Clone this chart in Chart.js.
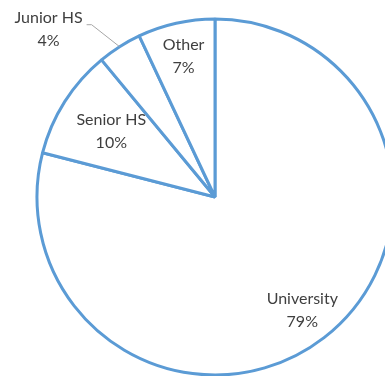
<!DOCTYPE html>
<html>
<head>
<meta charset="utf-8">
<script src="https://cdn.jsdelivr.net/npm/chart.js@4/dist/chart.umd.min.js"></script>
<style>
  html, body { margin: 0; padding: 0; background: #fff; }
  #wrap { width: 385px; height: 376px; position: relative; }
</style>
</head>
<body>
<div id="wrap"><canvas id="myChart"></canvas></div>
<script>
// chart data
const categories = ["University", "Senior HS", "Junior HS", "Other"];
const shares = [79, 10, 4, 7];

// label placement (fraction of radius along the slice middle); Junior HS sits outside
const labelStyle = [
  { r: 0.80, dx: 0, dy: 0 },
  { r: 0.69, dx: 0, dy: 0 },
  { r: 1.0, dx: 0, dy: 0, outside: true },
  { r: 0.81, dx: 0, dy: 0 }
];

const sliceLabels = {
  id: "sliceLabels",
  afterDatasetsDraw(chart) {
    const ctx = chart.ctx;
    const meta = chart.getDatasetMeta(0);
    ctx.save();
    ctx.font = "16px Lato, 'Open Sans', sans-serif";
    ctx.fillStyle = "#3f3f3f";
    ctx.textAlign = "center";
    ctx.textBaseline = "middle";
    meta.data.forEach((arc, i) => {
      const p = arc.getProps(["x", "y", "startAngle", "endAngle", "outerRadius"], true);
      const mid = (p.startAngle + p.endAngle) / 2;
      const st = labelStyle[i];
      let lx, ly;
      if (st.outside) {
        const ex = p.x + Math.cos(mid) * p.outerRadius;
        const ey = p.y + Math.sin(mid) * p.outerRadius;
        lx = ex - 71;
        ly = ey - 18;
        // leader line
        ctx.strokeStyle = "#a6a6a6";
        ctx.lineWidth = 1;
        ctx.beginPath();
        ctx.moveTo(ex, ey);
        ctx.lineTo(ex - 28, ey - 22);
        ctx.lineTo(ex - 33, ey - 22);
        ctx.stroke();
      } else {
        lx = p.x + Math.cos(mid) * p.outerRadius * st.r + st.dx;
        ly = p.y + Math.sin(mid) * p.outerRadius * st.r + st.dy;
      }
      ctx.fillText(categories[i], lx, ly - 11);
      ctx.fillText(shares[i] + "%", lx, ly + 12);
    });
    ctx.restore();
  }
};

new Chart(document.getElementById("myChart"), {
  type: "pie",
  data: {
    labels: categories,
    datasets: [{
      data: shares,
      backgroundColor: "#ffffff",
      borderColor: "#5b9bd5",
      borderWidth: 3
    }]
  },
  options: {
    responsive: true,
    maintainAspectRatio: false,
    animation: false,
    radius: 178,
    layout: { padding: { left: 45, right: 0, top: 18, bottom: 0 } },
    plugins: {
      legend: { display: false },
      tooltip: { enabled: false }
    }
  },
  plugins: [sliceLabels]
});
</script>
</body>
</html>
